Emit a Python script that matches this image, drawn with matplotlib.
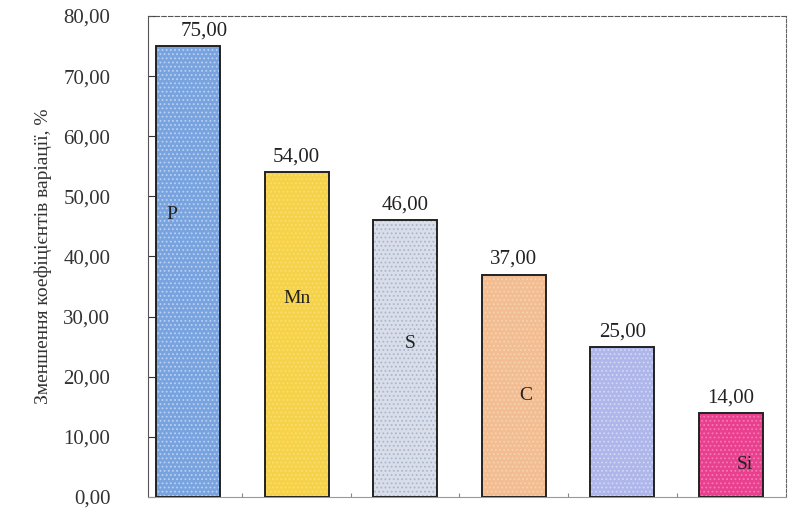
import matplotlib
matplotlib.use("Agg")
import matplotlib.pyplot as plt
from matplotlib.ticker import FuncFormatter

# зменшення коефіцієнтів варіації по елементах
elements = ["P", "Mn", "S", "C", "", "Si"]
values = [75.0, 54.0, 46.0, 37.0, 25.0, 14.0]
colors = ["#78a3de", "#f6d24a", "#d9deea", "#f2bd92", "#aeb6ea", "#e83f8e"]
speckle = ["#b9d2f4", "#f9df6e", "#aab8cc", "#f7d3b0", "#d2d8f6", "#f57ab4"]
# положення підпису елемента всередині стовпця (зсув по x, висота)
label_dx = [-0.15, 0.0, 0.05, 0.11, 0.0, 0.13]
label_y = [47.0, 33.0, 25.5, 16.8, 0.0, 5.4]
value_dx = [0.15, 0.0, 0.0, 0.0, 0.0, 0.0]

plt.rcParams['font.family'] = ['Liberation Serif', 'DejaVu Serif']
plt.rcParams['hatch.linewidth'] = 0.8


def comma(v):
    return ("%.2f" % v).replace(".", ",")


fig = plt.figure(figsize=(7.99, 5.09), dpi=100)
ax = fig.add_axes([0.185, 0.0236, 0.799, 0.945])

for i, v in enumerate(values):
    # заливка з крапчастою текстурою, потім контур
    ax.bar(i, v, width=0.59, color=colors[i], edgecolor=speckle[i],
           linewidth=0, hatch="....", zorder=2)
    ax.bar(i, v, width=0.59, fill=False, edgecolor="#222222",
           linewidth=1.4, zorder=3)
    ax.text(i + value_dx[i], v + 2.5, comma(v), ha="center", va="center",
            fontsize=15, color="#222222")
    if elements[i]:
        ax.text(i + label_dx[i], label_y[i], elements[i], ha="center",
                va="center", fontsize=14, color="#222222", zorder=4)

ax.set_xlim(-0.37, 5.51)
ax.set_ylim(0, 80)
ax.set_yticks(range(0, 81, 10))
ax.yaxis.set_major_formatter(FuncFormatter(lambda v, p: comma(v)))
ax.set_xticks([0.5, 1.5, 2.5, 3.5, 4.5])
ax.set_xticklabels([])
ax.tick_params(axis="y", direction="in", length=5, labelsize=15,
               colors="#333333", pad=27)
ax.tick_params(axis="x", direction="in", length=3, colors="#888888")

ax.spines["left"].set_linestyle((0, (2, 1)))
ax.spines["left"].set_color("#555555")
ax.spines["top"].set_linestyle((0, (4, 2)))
ax.spines["top"].set_color("#555555")
ax.spines["right"].set_linestyle((0, (3, 1.5)))
ax.spines["right"].set_color("#666666")
ax.spines["bottom"].set_color("#999999")

ax.set_ylabel("Зменшення коефіцієнтів варіації, %", fontsize=14,
              color="#333333", labelpad=8)

fig.savefig("out.png", dpi=100)
